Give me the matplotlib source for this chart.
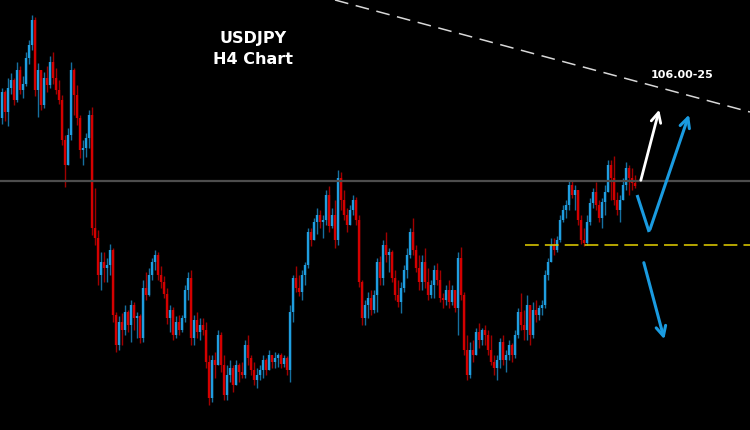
import numpy as np
import matplotlib
matplotlib.use("Agg")
import matplotlib.pyplot as plt

# USDJPY H4 candles (price); open of each bar = previous close
first_open = 105.82
highs = [106.12, 106.10, 106.22, 106.27, 106.22, 106.38, 106.34, 106.24, 106.48, 106.60,
         106.85, 106.83, 106.37, 106.30, 106.28, 106.34, 106.44, 106.48, 106.32, 106.20,
         106.05, 105.65, 105.72, 106.38, 106.32, 106.15, 105.85, 105.60, 105.67, 105.90,
         105.93, 105.12, 104.70, 104.48, 104.48, 104.42, 104.56, 104.52, 103.88, 103.84,
         103.87, 103.95, 103.90, 104.00, 103.98, 103.88, 103.86, 104.20, 104.28, 104.32,
         104.42, 104.50, 104.48, 104.34, 104.24, 104.12, 103.95, 103.93, 103.84, 103.85,
         103.85, 104.15, 104.28, 104.30, 103.85, 103.88, 103.82, 103.82, 103.78, 103.45,
         103.45, 103.48, 103.70, 103.68, 103.45, 103.35, 103.40, 103.35, 103.40, 103.37,
         103.38, 103.60, 103.65, 103.45, 103.38, 103.32, 103.35, 103.45, 103.42, 103.50,
         103.45, 103.48, 103.47, 103.47, 103.45, 103.44, 103.95, 104.25, 104.34, 104.25,
         104.30, 104.38, 104.72, 104.72, 104.82, 104.92, 104.90, 104.85, 105.10, 105.14,
         104.92, 105.00, 105.30, 105.28, 105.10, 104.92, 104.95, 105.05, 105.03, 104.85,
         104.20, 104.00, 104.08, 104.10, 104.10, 104.42, 104.44, 104.60, 104.68, 104.52,
         104.50, 104.30, 104.20, 104.18, 104.35, 104.52, 104.72, 104.82, 104.55, 104.45,
         104.45, 104.52, 104.32, 104.20, 104.35, 104.37, 104.30, 104.07, 104.15, 104.20,
         104.15, 104.10, 104.48, 104.53, 104.08, 103.65, 103.58, 103.60, 103.72, 103.77,
         103.72, 103.75, 103.70, 103.65, 103.45, 103.45, 103.62, 103.65, 103.50, 103.60,
         103.57, 103.70, 103.92, 104.07, 103.90, 104.05, 103.95, 103.98, 104.00, 103.95,
         104.00, 104.30, 104.42, 104.62, 104.62, 104.64, 104.85, 104.95, 105.00, 105.20,
         105.20, 105.15, 105.10, 104.85, 104.72, 104.85, 105.02, 105.12, 105.18, 105.00,
         105.02, 105.15, 105.40, 105.40, 105.44, 105.08, 105.05, 105.22, 105.38, 105.35,
         105.32, 105.25]
lows = [105.76, 105.79, 105.74, 106.06, 105.95, 105.98, 106.06, 106.02, 106.14, 106.36,
        106.50, 106.04, 105.83, 105.90, 105.92, 106.08, 106.12, 106.16, 106.06, 105.96,
        105.55, 105.13, 105.35, 105.60, 105.85, 105.75, 105.42, 105.35, 105.43, 105.52,
        104.65, 104.55, 104.15, 104.10, 104.18, 104.18, 104.25, 103.78, 103.48, 103.50,
        103.55, 103.65, 103.68, 103.58, 103.70, 103.62, 103.57, 103.58, 104.00, 104.04,
        104.20, 104.30, 104.20, 104.12, 104.02, 103.76, 103.68, 103.60, 103.62, 103.65,
        103.68, 103.78, 104.00, 103.55, 103.55, 103.62, 103.60, 103.65, 103.32, 102.95,
        102.98, 103.22, 103.35, 103.28, 103.00, 103.00, 103.18, 103.08, 103.15, 103.18,
        103.22, 103.22, 103.35, 103.25, 103.15, 103.12, 103.20, 103.22, 103.25, 103.30,
        103.32, 103.32, 103.33, 103.32, 103.33, 103.25, 103.18, 103.78, 104.08, 104.04,
        104.00, 104.15, 104.32, 104.54, 104.60, 104.66, 104.72, 104.62, 104.75, 104.68,
        104.72, 104.52, 104.55, 104.90, 104.80, 104.68, 104.75, 104.85, 104.75, 104.13,
        103.75, 103.75, 103.82, 103.85, 103.87, 103.88, 104.15, 104.15, 104.38, 104.28,
        104.18, 104.00, 103.93, 103.87, 104.08, 104.22, 104.42, 104.45, 104.28, 104.10,
        104.10, 104.12, 104.00, 104.02, 104.02, 104.15, 103.98, 103.92, 103.95, 103.92,
        103.95, 103.88, 103.65, 104.00, 103.45, 103.20, 103.22, 103.38, 103.45, 103.52,
        103.55, 103.55, 103.45, 103.35, 103.25, 103.20, 103.32, 103.35, 103.28, 103.40,
        103.38, 103.42, 103.62, 103.70, 103.60, 103.60, 103.55, 103.62, 103.78, 103.80,
        103.85, 103.92, 104.20, 104.38, 104.45, 104.48, 104.58, 104.78, 104.82, 104.90,
        105.02, 104.90, 104.75, 104.56, 104.54, 104.55, 104.75, 104.92, 104.90, 104.78,
        104.72, 104.85, 105.08, 105.00, 104.95, 104.85, 104.78, 105.00, 105.10, 105.05,
        105.10, 105.12]
closes = [106.08, 105.88, 106.12, 106.20, 106.00, 106.30, 106.10, 106.16, 106.42, 106.55,
          106.80, 106.10, 106.30, 105.95, 106.22, 106.15, 106.38, 106.22, 106.10, 106.00,
          105.60, 105.35, 105.65, 106.30, 106.05, 105.82, 105.50, 105.52, 105.62, 105.85,
          104.72, 104.62, 104.25, 104.38, 104.32, 104.35, 104.50, 103.85, 103.55, 103.78,
          103.70, 103.88, 103.75, 103.95, 103.82, 103.84, 103.62, 104.12, 104.05, 104.25,
          104.38, 104.45, 104.25, 104.18, 104.06, 103.82, 103.90, 103.65, 103.78, 103.70,
          103.82, 104.10, 104.22, 103.62, 103.80, 103.68, 103.75, 103.70, 103.38, 103.02,
          103.40, 103.35, 103.65, 103.35, 103.05, 103.25, 103.32, 103.15, 103.35, 103.28,
          103.25, 103.55, 103.42, 103.30, 103.20, 103.25, 103.30, 103.40, 103.30, 103.45,
          103.38, 103.42, 103.45, 103.36, 103.42, 103.30, 103.88, 104.22, 104.12, 104.08,
          104.25, 104.35, 104.68, 104.60, 104.78, 104.85, 104.78, 104.80, 105.05, 104.74,
          104.85, 104.60, 105.22, 105.00, 104.85, 104.75, 104.90, 105.00, 104.80, 104.18,
          103.82, 103.95, 104.02, 103.90, 104.05, 104.38, 104.22, 104.55, 104.45, 104.48,
          104.22, 104.05, 103.98, 104.12, 104.30, 104.45, 104.68, 104.50, 104.32, 104.18,
          104.38, 104.18, 104.05, 104.15, 104.30, 104.20, 104.02, 104.00, 104.10, 103.98,
          104.10, 103.92, 104.42, 104.05, 103.50, 103.25, 103.50, 103.45, 103.68, 103.60,
          103.70, 103.65, 103.50, 103.38, 103.32, 103.40, 103.58, 103.40, 103.45, 103.55,
          103.45, 103.65, 103.88, 103.75, 103.70, 103.95, 103.65, 103.90, 103.85, 103.92,
          103.95, 104.25, 104.38, 104.55, 104.50, 104.60, 104.80, 104.90, 104.95, 105.15,
          105.05, 105.10, 104.80, 104.60, 104.57, 104.78, 104.97, 105.08, 104.95, 104.82,
          104.98, 105.08, 105.35, 105.22, 105.00, 104.90, 105.00, 105.15, 105.32, 105.22,
          105.17, 105.14]

resistance = 105.19      # grey horizontal line
support = 104.55         # yellow dashed line
trend_x = [111, 249.3]   # white dashed trendline
trend_y = [107.00, 105.88]
target_label = "106.00-25"

opens = np.r_[first_open, closes[:-1]]
closes = np.array(closes)
x = np.arange(len(closes))
up = closes >= opens

fig = plt.figure(figsize=(7.5, 4.3), dpi=100, facecolor="black")
ax = fig.add_axes([0, 0, 1, 1])
ax.set_facecolor("black")

wick_col = np.where(up, "#16709f", "#a00000")
body_col = np.where(up, "#1f9ee0", "#d40000")
ax.vlines(x, lows, highs, colors=wick_col, lw=1.0)
ax.vlines(x, opens, closes, colors=body_col, lw=1.7)

ax.axhline(resistance, color="#4d4d4d", lw=1.6)
ax.plot([174.3, 249.3], [support, support], color="#e6d200", lw=1.1, dashes=(9, 4))
ax.plot(trend_x, trend_y, color="#d8d8d8", lw=1.1, dashes=(9, 5))

# scenario arrows
ax.annotate("", xy=(219.3, 105.93), xytext=(212.7, 105.17),
            arrowprops=dict(arrowstyle="->,head_length=0.7,head_width=0.35", color="white", lw=2))
ax.plot([211.7, 215.7], [105.05, 104.68], color="#1a9be0", lw=2.2, solid_capstyle="butt")
ax.annotate("", xy=(229.3, 105.88), xytext=(215.7, 104.68),
            arrowprops=dict(arrowstyle="->,head_length=0.7,head_width=0.35", color="#1a9be0", lw=2.2))
ax.annotate("", xy=(221.0, 103.58), xytext=(213.7, 104.40),
            arrowprops=dict(arrowstyle="->,head_length=0.7,head_width=0.35", color="#1a9be0", lw=2.2))

ax.text(226.7, 106.25, target_label, color="white", fontsize=8, fontweight="bold", ha="center", va="center")
ax.text(83.7, 106.62, "USDJPY", color="white", fontsize=11.5, fontweight="bold", ha="center", va="center")
ax.text(83.7, 106.41, "H4 Chart", color="white", fontsize=11.5, fontweight="bold", ha="center", va="center")

ax.set_xlim(-0.67, 249.33)
ax.set_ylim(102.70, 107.00)
ax.axis("off")

fig.savefig("out.png", dpi=100, facecolor="black")
